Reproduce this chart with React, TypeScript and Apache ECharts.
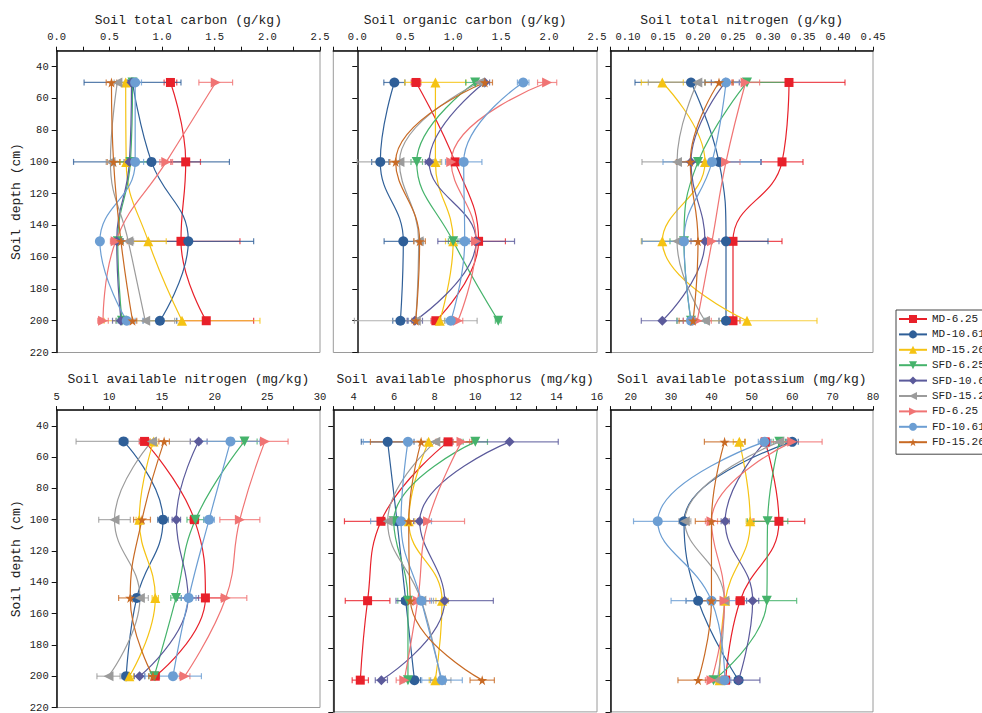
import React, { useEffect, useRef } from 'react';
import * as echarts from 'echarts';

// ---------- data ----------
const DEPTHS = [50, 100, 150, 200];
const SERIES_NAMES = ['MD-6.25', 'MD-10.61', 'MD-15.26', 'SFD-6.25', 'SFD-10.61', 'SFD-15.26', 'FD-6.25', 'FD-10.61', 'FD-15.26'];
const COLORS = ['#E8202A', '#2F5F98', '#F5C313', '#45B36B', '#5B5A9B', '#9B9B9B', '#F07474', '#6C9ED3', '#C86A24'];

const PANEL_TITLES = [
  'Soil total carbon (g/kg)',
  'Soil organic carbon (g/kg)',
  'Soil total nitrogen (g/kg)',
  'Soil available nitrogen (mg/kg)',
  'Soil available phosphorus (mg/kg)',
  'Soil available potassium (mg/kg)',
];
const DEPTH_TICKS = [40, 60, 80, 100, 120, 140, 160, 180, 200, 220];

const TC_TICKS = [0, 0.5, 1.0, 1.5, 2.0, 2.5];
const SOC_TICKS = [0, 0.5, 1.0, 1.5, 2.0, 2.5];
const TN_TICKS = [0.1, 0.15, 0.2, 0.25, 0.3, 0.35, 0.4, 0.45];
const AN_TICKS = [5, 10, 15, 20, 25, 30];
const AP_TICKS = [4, 6, 8, 10, 12, 14, 16];
const AK_TICKS = [20, 30, 40, 50, 60, 70, 80];

// Soil total carbon (g/kg)
const TC_MEAN = [
  [1.08, 1.225, 1.18, 1.42],
  [0.72, 0.9, 1.25, 0.98],
  [0.655, 0.66, 0.87, 1.19],
  [0.72, 0.7, 0.58, 0.62],
  [0.71, 0.69, 0.57, 0.61],
  [0.576, 0.51, 0.68, 0.84],
  [1.51, 1.04, 0.56, 0.44],
  [0.745, 0.745, 0.41, 0.665],
  [0.52, 0.54, 0.61, 0.72],
];
const TC_ERR = [
  [0.06, 0.14, 0.56, 0.45],
  [0.46, 0.74, 0.62, 0.16],
  [0.05, 0.06, 0.17, 0.74],
  [0.05, 0.18, 0.05, 0.05],
  [0.04, 0.05, 0.05, 0.08],
  [0.03, 0.04, 0.05, 0.28],
  [0.16, 0.06, 0.05, 0.05],
  [0.06, 0.08, 0.02, 0.08],
  [0.05, 0.06, 0.06, 0.04],
];

// Soil organic carbon (g/kg)
const SOC_MEAN = [
  [0.613, 1.02, 1.265, 0.82],
  [0.387, 0.24, 0.48, 0.45],
  [0.815, 0.815, 1.0, 0.86],
  [1.23, 0.62, 1.0, 1.47],
  [1.33, 0.75, 1.24, 0.6],
  [1.275, 0.44, 0.64, 0.61],
  [1.98, 0.98, 1.24, 1.05],
  [1.73, 1.11, 1.12, 0.975],
  [1.33, 0.4, 0.65, 0.61],
];
const SOC_ERR = [
  [0.05, 0.04, 0.28, 0.05],
  [0.11, 0.09, 0.2, 0.08],
  [0.32, 0.05, 0.08, 0.05],
  [0.1, 0.06, 0.05, 0.03],
  [0.05, 0.04, 0.4, 0.08],
  [0.06, 0.44, 0.05, 0.64],
  [0.1, 0.04, 0.05, 0.05],
  [0.06, 0.19, 0.05, 0.06],
  [0.08, 0.06, 0.06, 0.04],
];

// Soil total nitrogen (g/kg)
const TN_MEAN = [
  [0.33, 0.32, 0.25, 0.25],
  [0.19, 0.23, 0.24, 0.24],
  [0.149, 0.21, 0.149, 0.27],
  [0.27, 0.2, 0.18, 0.19],
  [0.239, 0.19, 0.21, 0.149],
  [0.199, 0.17, 0.17, 0.21],
  [0.268, 0.24, 0.22, 0.199],
  [0.24, 0.22, 0.18, 0.19],
  [0.23, 0.189, 0.2, 0.193],
];
const TN_ERR = [
  [0.08, 0.03, 0.07, 0.01],
  [0.08, 0.06, 0.06, 0.01],
  [0.03, 0.01, 0.03, 0.1],
  [0.06, 0.01, 0.02, 0.02],
  [0.02, 0.02, 0.02, 0.03],
  [0.07, 0.05, 0.05, 0.02],
  [0.02, 0.02, 0.02, 0.02],
  [0.03, 0.07, 0.06, 0.02],
  [0.02, 0.02, 0.02, 0.02],
];

// Soil available nitrogen (mg/kg)
const AN_MEAN = [
  [13.34, 18.07, 19.12, 14.36],
  [11.35, 15.09, 12.6, 11.6],
  [14.2, 12.84, 14.36, 11.9],
  [22.83, 18.17, 16.33, 14.26],
  [18.48, 16.36, 17.47, 12.87],
  [14.04, 10.49, 12.9, 9.92],
  [24.77, 22.39, 21.05, 17.15],
  [21.5, 19.47, 17.53, 16.04],
  [15.2, 13.1, 11.98, 14.14],
];
const AN_ERR = [
  [0.5, 0.4, 1.5, 0.3],
  [0.4, 0.5, 0.6, 0.4],
  [0.3, 0.3, 0.3, 0.4],
  [1.2, 0.8, 0.5, 0.5],
  [0.8, 0.4, 1.0, 0.5],
  [7.2, 1.5, 0.8, 1.1],
  [2.2, 1.9, 2.0, 0.5],
  [2.8, 0.5, 0.7, 2.7],
  [0.5, 0.8, 1.1, 0.4],
];

// Soil available phosphorus (mg/kg)
const AP_MEAN = [
  [8.66, 5.35, 4.69, 4.33],
  [5.68, 6.14, 6.57, 7.0],
  [7.7, 6.72, 8.36, 8.03],
  [10.0, 5.98, 6.68, 6.68],
  [11.69, 7.26, 8.49, 5.37],
  [8.03, 5.68, 7.34, 8.3],
  [9.32, 7.67, 7.16, 6.5],
  [6.68, 6.34, 7.34, 8.36],
  [7.33, 6.72, 6.8, 10.34],
];
const AP_ERR = [
  [0.6, 1.8, 1.1, 0.4],
  [1.3, 0.3, 0.2, 0.3],
  [0.4, 0.3, 0.3, 0.3],
  [0.6, 0.4, 0.5, 0.2],
  [2.4, 0.3, 2.4, 0.3],
  [0.4, 0.4, 0.6, 0.5],
  [0.4, 1.8, 0.6, 0.4],
  [2.2, 1.5, 0.5, 1.0],
  [2.5, 0.5, 0.4, 0.6],
];

// Soil available potassium (mg/kg)
const AK_MEAN = [
  [53.3, 56.7, 47.1, 43.5],
  [60.0, 33.2, 36.7, 46.7],
  [46.9, 49.6, 43.4, 42.0],
  [56.8, 53.9, 53.7, 40.5],
  [53.3, 43.4, 50.2, 46.7],
  [56.8, 33.4, 43.2, 41.5],
  [60.0, 40.0, 43.25, 40.0],
  [53.1, 26.7, 40.0, 43.3],
  [43.25, 40.0, 40.0, 36.7],
];
const AK_ERR = [
  [1.0, 6.4, 1.0, 1.0],
  [1.5, 1.0, 3.0, 1.0],
  [1.5, 1.0, 1.0, 1.0],
  [1.5, 5.0, 7.4, 1.0],
  [1.0, 1.0, 1.5, 5.3],
  [2.0, 1.5, 1.0, 1.0],
  [7.4, 1.5, 1.0, 1.5],
  [1.5, 6.0, 10.0, 1.5],
  [5.0, 4.0, 3.0, 5.0],
];

// ---------- styling / layout ----------
const FONT = '"Liberation Mono", "DejaVu Sans Mono", monospace';
const STAR = 'path://M50,0 L61,35 L98,35 L68,57 L79,91 L50,70 L21,91 L32,57 L2,35 L39,35 Z';
const SYMBOLS = ['rect', 'circle', 'triangle', 'triangle', 'diamond', 'triangle', 'triangle', 'circle', STAR];
const ROTATE = [0, 0, 0, 180, 0, 90, -90, 0, 0];
const SIZES = [9, 10, 10, 10, 10, 10, 10, 10, 10];

const PANELS = [
  { mean: TC_MEAN, err: TC_ERR, labels: TC_TICKS, min: 0, max: 2.5, step: 0.25, dec: 1 },
  { mean: SOC_MEAN, err: SOC_ERR, labels: SOC_TICKS, min: -0.25, max: 2.5, step: 0.25, dec: 1 },
  { mean: TN_MEAN, err: TN_ERR, labels: TN_TICKS, min: 0.075, max: 0.45, step: 0.025, dec: 2 },
  { mean: AN_MEAN, err: AN_ERR, labels: AN_TICKS, min: 5, max: 30, step: 2.5, dec: 0 },
  { mean: AP_MEAN, err: AP_ERR, labels: AP_TICKS, min: 3, max: 16, step: 1, dec: 0 },
  { mean: AK_MEAN, err: AK_ERR, labels: AK_TICKS, min: 15, max: 80, step: 5, dec: 0 },
];

const COL_LEFT = [56.7, 333.3, 610.5];
const COL_WIDTH = [263.3, 263.7, 262.5];
const ROW_TOP = [50.7, 410.1];
const GRID_H = 301.8;

function range(min: number, max: number, step: number) {
  const out: number[] = [];
  const n = Math.round((max - min) / step);
  for (let i = 0; i <= n; i++) out.push(+(min + i * step).toFixed(4));
  return out;
}

function buildOption() {
  const grids: any[] = [];
  const xAxes: any[] = [];
  const yAxes: any[] = [];
  const series: any[] = [];

  PANELS.forEach((p, k) => {
    const row = Math.floor(k / 3);
    const col = k % 3;
    grids.push({
      left: COL_LEFT[col],
      top: ROW_TOP[row],
      width: COL_WIDTH[col],
      height: GRID_H,
      show: true,
      borderColor: '#9a9a9a',
      borderWidth: 1,
      backgroundColor: 'transparent',
      containLabel: false,
    });
    xAxes.push({
      type: 'value',
      gridIndex: k,
      position: 'top',
      min: p.min,
      max: p.max,
      name: PANEL_TITLES[k],
      nameLocation: 'middle',
      nameGap: 24,
      nameTextStyle: { fontFamily: FONT, fontSize: 13, color: '#222' },
      axisLine: { show: true, lineStyle: { color: '#111', width: 1.5 } },
      axisTick: { show: true, length: 4, lineStyle: { color: '#111', width: 1 }, customValues: range(p.min, p.max, p.step) },
      axisLabel: {
        show: true,
        customValues: p.labels,
        margin: 8,
        fontFamily: FONT,
        fontSize: 10.5,
        color: '#222',
        formatter: (v: number) => v.toFixed(p.dec),
      },
      splitLine: { show: false },
    });
    yAxes.push({
      type: 'value',
      gridIndex: k,
      inverse: true,
      min: 30,
      max: 220,
      name: col === 0 ? 'Soil depth (cm)' : '',
      nameLocation: 'middle',
      nameGap: 34,
      nameTextStyle: { fontFamily: FONT, fontSize: 13, color: '#222' },
      axisLine: { show: true, lineStyle: { color: '#111', width: 1.5 } },
      axisTick: { show: true, length: 5, lineStyle: { color: '#111', width: 1 }, customValues: DEPTH_TICKS },
      axisLabel: {
        show: col === 0,
        customValues: DEPTH_TICKS,
        margin: 8,
        fontFamily: FONT,
        fontSize: 10.5,
        color: '#222',
      },
      splitLine: { show: false },
    });

    SERIES_NAMES.forEach((name, s) => {
      const color = COLORS[s];
      const errData = DEPTHS.map((d, i) => [p.mean[s][i], d, p.err[s][i]]);
      series.push({
        type: 'custom',
        name: 'err-' + k + '-' + s,
        xAxisIndex: k,
        yAxisIndex: k,
        data: errData,
        encode: { x: 0, y: 1 },
        silent: true,
        z: 2,
        renderItem: (params: any, api: any) => {
          const x = api.value(0);
          const y = api.value(1);
          const e = api.value(2);
          const a = api.coord([x - e, y]);
          const b = api.coord([x + e, y]);
          const style = { stroke: color, lineWidth: 1.2, opacity: 0.8 };
          const cap = 3;
          return {
            type: 'group',
            children: [
              { type: 'line', shape: { x1: a[0], y1: a[1], x2: b[0], y2: b[1] }, style },
              { type: 'line', shape: { x1: a[0], y1: a[1] - cap, x2: a[0], y2: a[1] + cap }, style },
              { type: 'line', shape: { x1: b[0], y1: b[1] - cap, x2: b[0], y2: b[1] + cap }, style },
            ],
          };
        },
      });
      series.push({
        type: 'line',
        name,
        xAxisIndex: k,
        yAxisIndex: k,
        data: DEPTHS.map((d, i) => [p.mean[s][i], d]),
        smooth: 0.45,
        symbol: SYMBOLS[s],
        symbolRotate: ROTATE[s],
        symbolSize: SIZES[s],
        showAllSymbol: true,
        lineStyle: { color, width: 1.2 },
        itemStyle: { color, borderWidth: 0 },
        emphasis: { disabled: true },
        z: 3,
      });
    });
  });

  return {
    animation: false,
    backgroundColor: '#ffffff',
    textStyle: { fontFamily: FONT },
    grid: grids,
    xAxis: xAxes,
    yAxis: yAxes,
    legend: {
      data: SERIES_NAMES,
      orient: 'vertical',
      left: 896,
      top: 310,
      itemWidth: 28,
      itemHeight: 10,
      itemGap: 3.4,
      padding: [3, 4, 6, 2],
      borderColor: '#444',
      borderWidth: 1,
      textStyle: { fontFamily: FONT, fontSize: 11, color: '#222', lineHeight: 12 },
      selectedMode: false,
    },
    series,
  };
}

export default function App() {
  const ref = useRef<HTMLDivElement>(null);
  useEffect(() => {
    if (!ref.current) return;
    const chart = echarts.init(ref.current, null, { renderer: 'svg' });
    chart.setOption(buildOption() as any);
    return () => chart.dispose();
  }, []);
  return (
    <div
      ref={ref}
      style={{ position: 'fixed', left: 0, top: 0, width: 982, height: 713, background: '#fff' }}
    />
  );
}
